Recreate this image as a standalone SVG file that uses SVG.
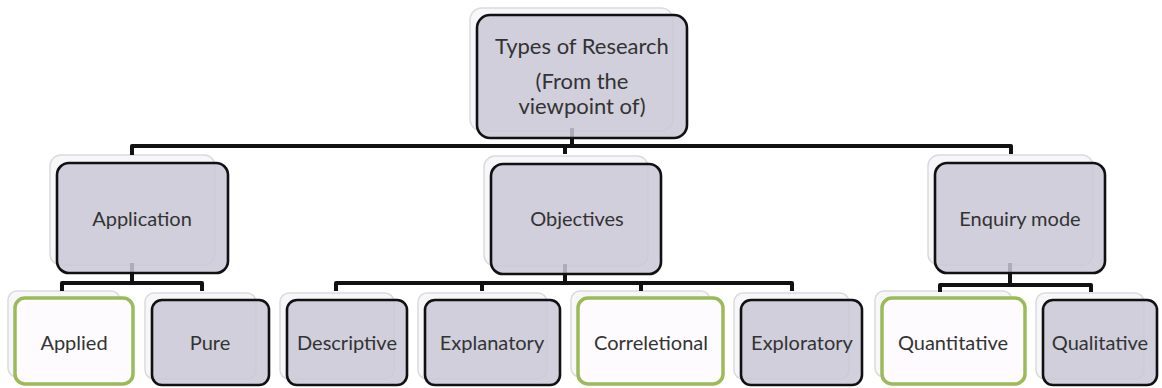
<svg xmlns="http://www.w3.org/2000/svg" width="1162" height="388" viewBox="0 0 1162 388">
  <style>
    .ghost { fill: #f7f7f9; stroke: #dadae0; stroke-width: 1.5; }
    .box { fill: #c9c8d6; fill-opacity: 0.85; stroke: #111; stroke-width: 2.6; }
    .hl { fill: #fdfbfd; stroke: #9bbb59; stroke-width: 3.5; }
    .lbl { font-family: Lato, "Open Sans", sans-serif; font-size: 20px; fill: #333; text-anchor: middle; }
    .top { font-size: 22px; }
    .wire { fill: none; stroke: #111; stroke-width: 4; stroke-linejoin: round; }
  </style>

  <!-- ghost cards sit behind every card -->
  <g id="ghosts">
    <rect class="ghost" x="470" y="8" width="203" height="123" rx="12"/>
    <rect class="ghost" x="50" y="155" width="165" height="110" rx="11"/>
    <rect class="ghost" x="484" y="156" width="164" height="110" rx="11"/>
    <rect class="ghost" x="928" y="155" width="165" height="110" rx="11"/>
    <rect class="ghost" x="8" y="291" width="112" height="86" rx="9"/>
    <rect class="ghost" x="145" y="293" width="111" height="86" rx="9"/>
    <rect class="ghost" x="280" y="293" width="114" height="86" rx="9"/>
    <rect class="ghost" x="418" y="293" width="129" height="86" rx="9"/>
    <rect class="ghost" x="571" y="291" width="139" height="86" rx="9"/>
    <rect class="ghost" x="734" y="293" width="115" height="86" rx="9"/>
    <rect class="ghost" x="875" y="291" width="137" height="86" rx="9"/>
    <rect class="ghost" x="1036" y="293" width="108" height="86" rx="9"/>
  </g>

  <!-- tree wiring; trunks start inside the parent card -->
  <g id="connectors">
    <path class="wire" d="M572 128 V146"/>
    <path class="wire" d="M132 155 V146 H1011 V154"/>
    <path class="wire" d="M565 146 V154"/>

    <path class="wire" d="M132 263 V283"/>
    <path class="wire" d="M62 291 V283 H202 V291"/>

    <path class="wire" d="M565 264 V283"/>
    <path class="wire" d="M336 291 V283 H792 V291"/>
    <path class="wire" d="M482 283 V291"/>
    <path class="wire" d="M641 283 V291"/>

    <path class="wire" d="M1010 263 V285"/>
    <path class="wire" d="M940 292 V285 H1091 V292"/>
  </g>

  <g id="types-of-research">
    <rect class="box" x="477" y="15" width="210" height="123" rx="13"/>
    <text class="lbl top" x="582" y="54">Types of Research</text>
    <text class="lbl top" x="582" y="89">(From the</text>
    <text class="lbl top" x="582" y="114">viewpoint of)</text>
  </g>

  <g id="application">
    <rect class="box" x="57" y="163" width="171" height="110" rx="12"/>
    <text class="lbl" x="142" y="226">Application</text>
  </g>
  <g id="objectives">
    <rect class="box" x="491" y="164" width="170" height="110" rx="12"/>
    <text class="lbl" x="577" y="226">Objectives</text>
  </g>
  <g id="enquiry-mode">
    <rect class="box" x="935" y="163" width="170" height="110" rx="12"/>
    <text class="lbl" x="1020" y="226">Enquiry mode</text>
  </g>

  <g id="applied">
    <rect class="hl" x="15" y="298" width="118" height="86" rx="10"/>
    <text class="lbl" x="74" y="350">Applied</text>
  </g>
  <g id="pure">
    <rect class="box" x="152" y="300" width="117" height="85" rx="10"/>
    <text class="lbl" x="210" y="350">Pure</text>
  </g>
  <g id="descriptive">
    <rect class="box" x="287" y="300" width="120" height="85" rx="10"/>
    <text class="lbl" x="347" y="350">Descriptive</text>
  </g>
  <g id="explanatory">
    <rect class="box" x="425" y="300" width="135" height="85" rx="10"/>
    <text class="lbl" x="492" y="350">Explanatory</text>
  </g>
  <g id="correletional">
    <rect class="hl" x="578" y="298" width="145" height="86" rx="10"/>
    <text class="lbl" x="651" y="350">Correletional</text>
  </g>
  <g id="exploratory">
    <rect class="box" x="741" y="300" width="121" height="85" rx="10"/>
    <text class="lbl" x="802" y="350">Exploratory</text>
  </g>
  <g id="quantitative">
    <rect class="hl" x="882" y="298" width="143" height="86" rx="10"/>
    <text class="lbl" x="953" y="350">Quantitative</text>
  </g>
  <g id="qualitative">
    <rect class="box" x="1043" y="300" width="114" height="85" rx="10"/>
    <text class="lbl" x="1100" y="350">Qualitative</text>
  </g>
</svg>
